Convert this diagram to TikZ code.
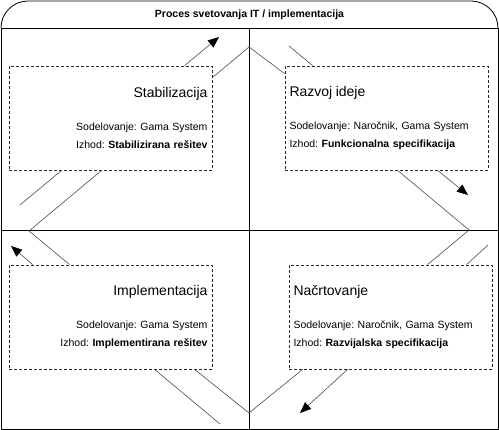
\documentclass[tikz,border=0pt]{standalone}
\usepackage{fontspec}
\setmainfont{Liberation Sans}
\usetikzlibrary{arrows.meta}
\frenchspacing

\begin{document}
\begin{tikzpicture}[x=1pt, y=-1pt,
    faza/.style={draw=black!85, line width=0.8pt, dash pattern=on 3pt off 2pt,
        minimum width=203pt, minimum height=104pt, inner xsep=4.5pt, inner ysep=0pt,
        text width=194pt, font=\fontsize{10.5}{18}\selectfont},
    povezava/.style={draw=black!70, line width=0.6pt},
    puscica/.style={povezava, -{Triangle[length=11pt, width=9pt, color=black]}}]
    \useasboundingbox (0,0) rectangle (499,430);

    % Okvir z naslovom
    \draw[line width=0.8pt, rounded corners=27pt] (1,28) -- (1,1) -- (498,1) -- (498,28);
    \draw[line width=0.8pt] (1,28) -- (1,429) -- (498,429) -- (498,28) -- cycle;
    \node[font=\fontsize{10.5}{12}\selectfont\bfseries] (naslov) at (249.5,15) {Proces svetovanja IT / implementacija};

    % Osi
    \draw[line width=0.8pt] (249,28) -- (249,429);
    \draw[line width=0.8pt] (1,230) -- (498,230);

    % Faze
    \node[faza, align=right] (stab) at (110.5,118)
        {{\fontsize{14}{16}\selectfont Stabilizacija}\\[15pt]
         Sodelovanje: Gama System\\
         Izhod: \textbf{Stabilizirana rešitev}};
    \node[faza, align=left] (razvoj) at (386.5,118)
        {{\fontsize{14}{16}\selectfont Razvoj ideje}\\[15pt]
         Sodelovanje: Naročnik, Gama System\\
         Izhod: \textbf{Funkcionalna specifikacija}};
    \node[faza, align=left] (nacrt) at (390.5,317)
        {{\fontsize{14}{16}\selectfont Načrtovanje}\\[15pt]
         Sodelovanje: Naročnik, Gama System\\
         Izhod: \textbf{Razvijalska specifikacija}};
    \node[faza, align=right] (impl) at (110.5,317)
        {{\fontsize{14}{16}\selectfont Implementacija}\\[15pt]
         Sodelovanje: Gama System\\
         Izhod: \textbf{Implementirana rešitev}};

    % Stičišča na oseh
    \coordinate (jzgoraj) at (249,47);
    \coordinate (jdesno) at (469,230);
    \coordinate (jspodaj) at (249,413);
    \coordinate (jlevo) at (29,231);

    % Prosti konci puščic in črt
    \coordinate (p1) at (219,37);
    \coordinate (c1) at (289,46);
    \coordinate (p2) at (468,195);
    \coordinate (c2) at (488,245);
    \coordinate (p3) at (300,413);
    \coordinate (c3) at (220,424);
    \coordinate (p4) at (11,246);
    \coordinate (c4) at (20,205);

    % Prehod: Stabilizacija -> Razvoj ideje
    \draw[povezava] ([yshift=-12pt]stab.north east) -- (jzgoraj) -- ([yshift=-8pt]razvoj.north west);
    \draw[puscica] ([xshift=176pt]stab.north west) -- (p1);
    \draw[povezava] (c1) -- ([xshift=28pt]razvoj.north west);

    % Prehod: Razvoj ideje -> Načrtovanje
    \draw[povezava] ([xshift=113pt]razvoj.south west) -- (jdesno) -- ([xshift=139pt]nacrt.north west);
    \draw[puscica] ([xshift=153pt]razvoj.south west) -- (p2);
    \draw[povezava] (c2) -- ([xshift=178pt]nacrt.north west);

    % Prehod: Načrtovanje -> Implementacija
    \draw[povezava] ([xshift=14pt]nacrt.south west) -- (jspodaj) -- ([xshift=186pt]impl.south west);
    \draw[puscica] ([xshift=59pt]nacrt.south west) -- (p3);
    \draw[povezava] ([xshift=146pt]impl.south west) -- (c3);

    % Prehod: Implementacija -> Stabilizacija
    \draw[povezava] ([xshift=61pt]impl.north west) -- (jlevo) -- ([xshift=93pt]stab.south west);
    \draw[puscica] ([xshift=24pt]impl.north west) -- (p4);
    \draw[povezava] ([xshift=53pt]stab.south west) -- (c4);

\end{tikzpicture}
\end{document}
